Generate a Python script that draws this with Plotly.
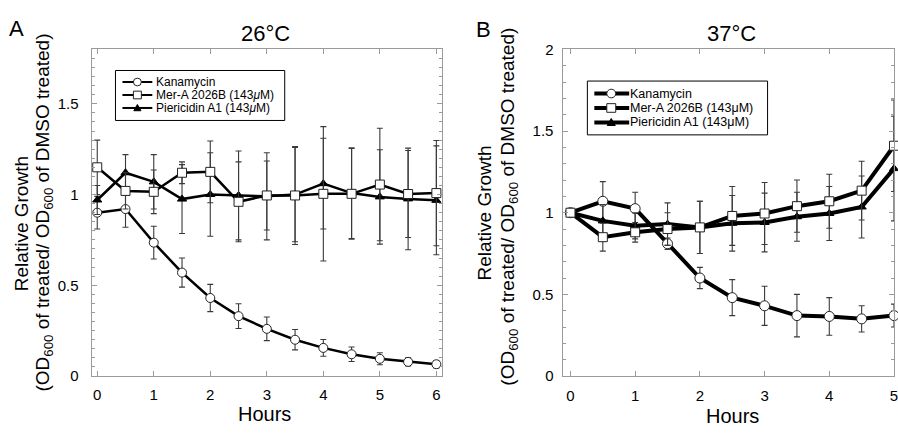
import plotly.graph_objects as go

# ---------------- data ----------------
hours_a = [0, 0.5, 1, 1.5, 2, 2.5, 3, 3.5, 4, 4.5, 5, 5.5, 6]
kan_a = [0.90, 0.92, 0.735, 0.57, 0.43, 0.33, 0.26, 0.20, 0.155, 0.12, 0.095, 0.078, 0.065]
kan_a_err = [0.09, 0.10, 0.09, 0.08, 0.075, 0.068, 0.065, 0.056, 0.046, 0.04, 0.033, 0.022, 0.02]
mer_a = [1.15, 1.02, 1.015, 1.12, 1.125, 0.96, 0.995, 0.995, 1.004, 1.004, 1.055, 1.003, 1.008]
mer_a_err = [0.15, 0.10, 0.12, 0.06, 0.17, 0.22, 0.19, 0.27, 0.37, 0.25, 0.31, 0.24, 0.29]
pier_a = [0.97, 1.12, 1.07, 0.975, 1.0, 0.995, 0.99, 1.0, 1.06, 1.008, 0.987, 0.976, 0.968]
pier_a_err = [0.08, 0.10, 0.15, 0.19, 0.23, 0.245, 0.24, 0.26, 0.25, 0.25, 0.26, 0.28, 0.30]

hours_b = [0, 0.5, 1, 1.5, 2, 2.5, 3, 3.5, 4, 4.5, 5]
kan_b = [1.0, 1.07, 1.025, 0.81, 0.60, 0.48, 0.43, 0.37, 0.365, 0.35, 0.37]
kan_b_err = [0.0, 0.12, 0.10, 0.035, 0.065, 0.11, 0.12, 0.13, 0.115, 0.08, 0.07]
mer_b = [1.0, 0.85, 0.88, 0.90, 0.91, 0.98, 0.995, 1.04, 1.07, 1.135, 1.41]
mer_b_err = [0.0, 0.085, 0.06, 0.10, 0.16, 0.18, 0.19, 0.16, 0.165, 0.18, 0.28]
pier_b = [1.0, 0.95, 0.92, 0.93, 0.91, 0.935, 0.94, 0.975, 0.995, 1.035, 1.27]
pier_b_err = [0.0, 0.10, 0.08, 0.13, 0.16, 0.17, 0.18, 0.15, 0.165, 0.19, 0.32]

series_names = ["Kanamycin", "Mer-A 2026B (143<i>μ</i>M)", "Piericidin A1 (143<i>μ</i>M)"]
series_names_b = ["Kanamycin", "Mer-A 2026B (143μM)", "Piericidin A1 (143μM)"]

# ---------------- figure ----------------
W, H = 898, 434
FONT = "Liberation Sans, Arial, Helvetica, sans-serif"
AXC = "#9a9a9a"
ERRC = "#3a3a3a"


def px(x):
    return x / W


def py(y):
    return 1 - y / H


fig = go.Figure()


def add_series(x, y, err, symbol, fill, lw, msize, xa, ya):
    fig.add_trace(go.Scatter(
        x=x, y=y, mode="lines+markers", xaxis=xa, yaxis=ya, showlegend=False,
        line=dict(color="black", width=lw),
        marker=dict(symbol=symbol, size=msize, color=fill,
                    line=dict(color="#222" if fill == "white" else "black", width=1)),
        error_y=dict(type="data", array=err, visible=True, color=ERRC, thickness=1.1, width=3),
        cliponaxis=False,
    ))


# Panel A
add_series(hours_a, kan_a, kan_a_err, "circle", "white", 2.5, 9, "x", "y")
add_series(hours_a, pier_a, pier_a_err, "triangle-up", "black", 2.5, 8, "x", "y")
add_series(hours_a, mer_a, mer_a_err, "square", "white", 2.5, 9, "x", "y")
# Panel B
add_series(hours_b, kan_b, kan_b_err, "circle", "white", 4, 10, "x2", "y2")
add_series(hours_b, pier_b, pier_b_err, "triangle-up", "black", 4, 8, "x2", "y2")
add_series(hours_b, mer_b, mer_b_err, "square", "white", 4, 9, "x2", "y2")

ydom = [py(382), py(42)]
common = dict(showline=True, linecolor=AXC, linewidth=1, mirror="ticks", ticks="inside",
              tickcolor=AXC, ticklen=5, tickwidth=1, showgrid=False, zeroline=False,
              tickfont=dict(family=FONT, size=15, color="black"))

fig.update_layout(
    width=W, height=H, margin=dict(l=0, r=0, t=0, b=0),
    paper_bgcolor="white", plot_bgcolor="white",
    font=dict(family=FONT, color="black"),
    xaxis=dict(domain=[px(92), px(444)], range=[-0.1, 6.1], dtick=1, tick0=0,
               ticklabelstandoff=5, anchor="y", **common),
    yaxis=dict(domain=ydom, range=[0, 1.8], dtick=0.5, tick0=0, anchor="x",
               ticklabelstandoff=9,
               minor=dict(dtick=0.05, ticks="inside", ticklen=3, tickcolor=AXC), **common),
    xaxis2=dict(domain=[px(566), 1.0], range=[-0.108, 5.0], dtick=1, tick0=0,
                ticklabelstandoff=6, anchor="y2", ticklabeloverflow="allow", **common),
    yaxis2=dict(domain=ydom, range=[0, 2], dtick=0.5, tick0=0, anchor="x2",
                ticklabelstandoff=6,
                minor=dict(dtick=0.1, ticks="inside", ticklen=3, tickcolor=AXC), **common),
)

ann = []


def text(x, y, s, size, angle=0, xanchor="center"):
    ann.append(dict(x=px(x), y=py(y), xref="paper", yref="paper", text=s, showarrow=False,
                    textangle=angle, xanchor=xanchor, yanchor="middle",
                    font=dict(family=FONT, size=size, color="black")))


text(16.5, 20, "A", 22)
text(486, 21, "B", 22)
text(267, 26, "26°C", 22)
text(735, 26, "37°C", 22)
text(266, 422, "Hours", 20)
text(736, 424, "Hours", 20)
ytitle1 = "Relative Growth"
ytitle2 = "(OD<sub>600</sub> of treated/ OD<sub>600</sub> of DMSO treated)"
text(21, 223, ytitle1, 19, -90)
text(44, 212, ytitle2, 19, -90)
text(487, 212, ytitle1, 19, -90)
text(511, 206, ytitle2, 19, -90)

shapes = []


def legend(box, ys, lx0, lx1, mx, tx, names, fsize, lw, r):
    x0, y0, x1, y1 = box
    shapes.append(dict(type="rect", xref="paper", yref="paper", x0=px(x0), x1=px(x1),
                       y0=py(y1), y1=py(y0), line=dict(color="black", width=1),
                       fillcolor="white", layer="above"))
    kinds = ["circle", "square", "triangle"]
    for yy, kind, name in zip(ys, kinds, names):
        shapes.append(dict(type="line", xref="paper", yref="paper", x0=px(lx0), x1=px(lx1),
                           y0=py(yy), y1=py(yy), line=dict(color="black", width=lw)))
        if kind == "circle":
            shapes.append(dict(type="circle", xref="paper", yref="paper",
                               x0=px(mx - r), x1=px(mx + r), y0=py(yy + r), y1=py(yy - r),
                               fillcolor="white", line=dict(color="#222", width=1)))
        elif kind == "square":
            shapes.append(dict(type="rect", xref="paper", yref="paper",
                               x0=px(mx - r), x1=px(mx + r), y0=py(yy + r), y1=py(yy - r),
                               fillcolor="white", line=dict(color="#222", width=1)))
        else:
            t = r * 0.9
            path = "M {},{} L {},{} L {},{} Z".format(px(mx - t), py(yy + t * 0.8),
                                                     px(mx + t), py(yy + t * 0.8),
                                                     px(mx), py(yy - t * 1.0))
            shapes.append(dict(type="path", xref="paper", yref="paper", path=path,
                               fillcolor="black", line=dict(color="black", width=1)))
        text(tx, yy, name, fsize, 0, "left")


legend((116, 64, 286, 116), [76, 89.5, 103], 123, 153, 138, 155, series_names, 12, 2, 4)
legend((590, 75, 771, 131), [88, 103, 118], 597, 632, 614, 631, series_names_b, 12.5, 4, 4.5)

fig.update_layout(annotations=ann, shapes=shapes)
fig.write_html(
    "out.html", config={"displayModeBar": False},
    post_script=("document.body.style.margin='0px';"
                 "document.body.style.overflow='hidden';"
                 "document.documentElement.style.overflow='hidden';"),
)
